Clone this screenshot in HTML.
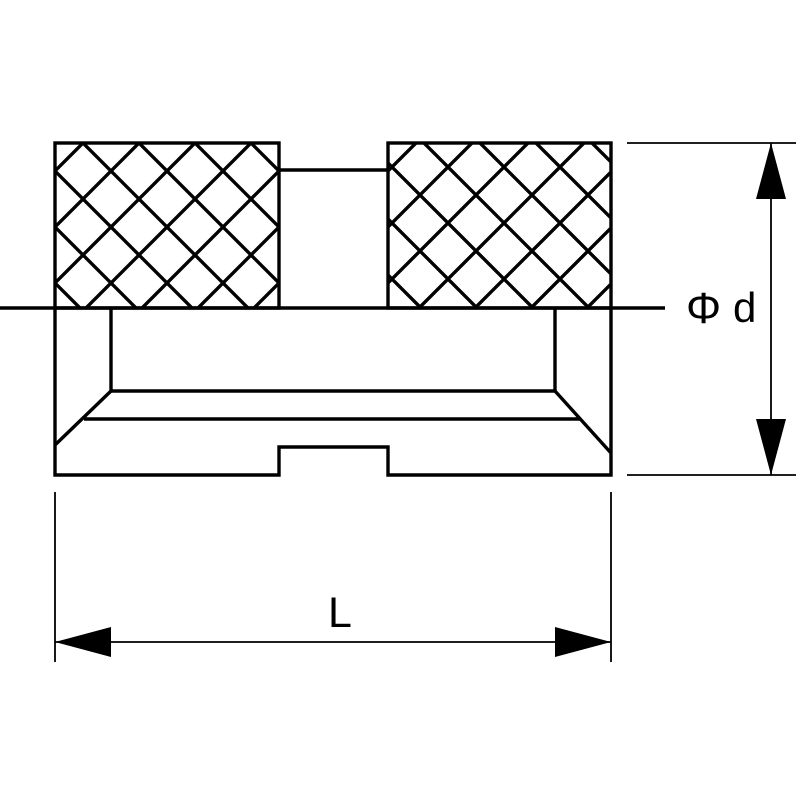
<!DOCTYPE html>
<html><head><meta charset="utf-8"><style>html,body{margin:0;padding:0;background:#fff}svg{display:block}</style></head>
<body>
<svg width="800" height="800" viewBox="0 0 800 800" xmlns="http://www.w3.org/2000/svg">
<defs>
<clipPath id="cl"><rect x="55" y="143" width="224" height="165"/></clipPath>
<clipPath id="cr"><rect x="388" y="143" width="223" height="165"/></clipPath>
</defs>
<g stroke="#000" stroke-width="3.4" fill="none">
<g clip-path="url(#cl)">
<path d="M-396 0 l800 800 M-340 0 l800 800 M-284 0 l800 800 M-228 0 l800 800 M-172 0 l800 800 M-116 0 l800 800 M-60 0 l800 800 M-4 0 l800 800 M52 0 l800 800 M108 0 l800 800 M164 0 l800 800 M220 0 l800 800 M276 0 l800 800"/>
<path d="M2 0 l-800 800 M58 0 l-800 800 M114 0 l-800 800 M170 0 l-800 800 M226 0 l-800 800 M282 0 l-800 800 M338 0 l-800 800 M394 0 l-800 800 M450 0 l-800 800 M506 0 l-800 800 M562 0 l-800 800 M618 0 l-800 800 M674 0 l-800 800"/>
</g>
<g clip-path="url(#cr)">
<path d="M-55 0 l800 800 M1 0 l800 800 M57 0 l800 800 M113 0 l800 800 M169 0 l800 800 M225 0 l800 800 M281 0 l800 800 M337 0 l800 800 M393 0 l800 800 M449 0 l800 800 M505 0 l800 800 M561 0 l800 800 M617 0 l800 800"/>
<path d="M391 0 l-800 800 M447 0 l-800 800 M503 0 l-800 800 M559 0 l-800 800 M615 0 l-800 800 M671 0 l-800 800 M727 0 l-800 800 M783 0 l-800 800 M839 0 l-800 800 M895 0 l-800 800 M951 0 l-800 800"/>
</g>
<rect x="55" y="143" width="224" height="165"/>
<rect x="388" y="143" width="223" height="165"/>
<line x1="279" y1="170" x2="388" y2="170"/>
<line x1="0" y1="308" x2="665" y2="308"/>
<path d="M55 308 V475 H279 V447 H388 V475 H611 V308"/>
<path d="M111 308 V391 H555 V308"/>
<path d="M111 391 L55 445 M555 391 L611 453 M84 419 H581"/>
</g>
<g stroke="#000" stroke-width="1.8" fill="none">
<line x1="627" y1="143" x2="796" y2="143"/>
<line x1="627" y1="475" x2="796" y2="475"/>
<line x1="771" y1="143" x2="771" y2="475"/>
<line x1="55" y1="492" x2="55" y2="662"/>
<line x1="611" y1="492" x2="611" y2="662"/>
<line x1="55" y1="642" x2="611" y2="642"/>
</g>
<g fill="#000">
<polygon points="771,143 756,199 786,199"/>
<polygon points="771,475 756,419 786,419"/>
<polygon points="55,642 111,627 111,657"/>
<polygon points="611,642 555,627 555,657"/>
</g>
<g font-family="Liberation Sans, DejaVu Sans, sans-serif" fill="#000" font-size="40">
<text x="686" y="323" font-size="44">Φ</text>
<text x="733" y="322" font-size="42">d</text>
<text x="328" y="627" font-size="43">L</text>
</g>
</svg>
</body></html>
